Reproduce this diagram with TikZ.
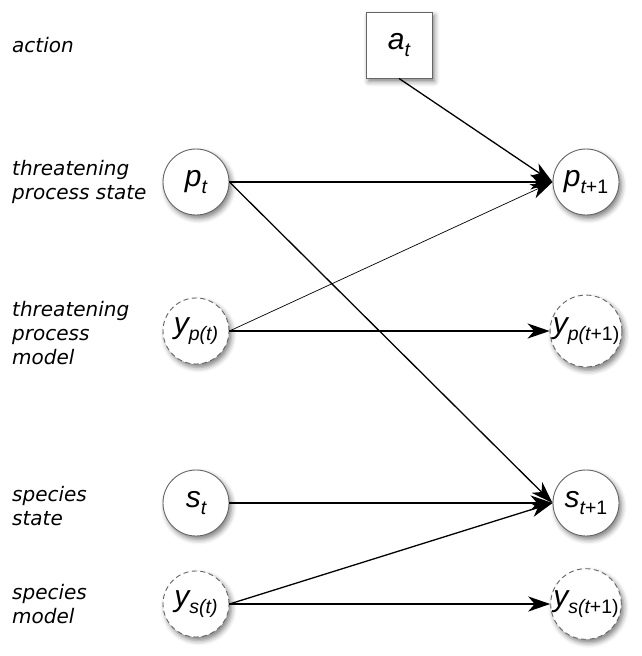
\documentclass[tikz,border=0pt]{standalone}
\usepackage{fontspec}
\newfontfamily\labfont{DejaVu Sans}
\newfontfamily\mthfont{Liberation Sans}
\usetikzlibrary{arrows.meta,shadows.blur}
\newcommand\mv[2]{{\mthfont\itshape\fontsize{30}{30}\selectfont #1\raisebox{-0.24em}{\fontsize{19.5}{19.5}\selectfont #2}}}
\begin{document}
\begin{tikzpicture}[x=1pt,y=-1pt,
  shad/.style={blur shadow={shadow xshift=2.5pt,shadow yshift=-3.5pt,shadow blur radius=5pt,shadow opacity=50}},
  state/.style={circle,draw=black!60,line width=0.9pt,fill=white,minimum size=66pt,inner sep=0pt,shad},
  model/.style={state,dash pattern=on 5pt off 3.5pt},
  actbox/.style={rectangle,draw=black!60,line width=0.9pt,fill=white,minimum size=66pt,inner sep=0pt,shad},
  lab/.style={anchor=west,align=left,inner sep=0pt,font=\labfont\itshape\fontsize{20}{24}\selectfont},
  tip/.style={-{Stealth[length=22pt,width=15pt,inset=6.5pt]}},
  thick arrow/.style={tip,line width=2.2pt},
  mid arrow/.style={tip,line width=1.3pt},
  thin arrow/.style={tip,line width=0.7pt}]
\useasboundingbox (0,0) rectangle (642,656);
% labels
\node[lab] (l1) at (12,45) {action};
\node[lab] (l2) at (12,182) {threatening\\process state};
\node[lab] (l3) at (12,333) {threatening\\process\\model};
\node[lab] (l4) at (12,506) {species\\state};
\node[lab] (l5) at (12,604) {species\\model};
% nodes
\node[actbox] (a) at (399,45) {\mv{a}{t}};
\node[state] (pt) at (196,182) {\mv{p}{t}};
\node[model] (ypt) at (196,331) {\mv{y}{p(t)}};
\node[state] (st) at (196,503) {\mv{s}{t}};
\node[model] (yst) at (196,604) {\mv{y}{s(t)}};
\node[state] (pt1) at (586,182) {\mv{p}{t\upshape+1}};
\node[model] (ypt1) at (586,331) {\mv{y}{p(t\upshape+1)}};
\node[state] (st1) at (586,503) {\mv{s}{t\upshape+1}};
\node[model] (yst1) at (586,604) {\mv{y}{s(t\upshape+1)}};
% connectors
\draw[mid arrow] (a.south) -- (pt1.west);
\draw[thick arrow] (pt.east) -- (pt1.west);
\draw[thin arrow] (ypt.east) -- (pt1.west);
\draw[thick arrow] (ypt.east) -- (ypt1.west);
\draw[mid arrow] (pt.east) -- (st1.west);
\draw[thick arrow] (st.east) -- (st1.west);
\draw[mid arrow] (yst.east) -- (st1.west);
\draw[thick arrow] (yst.east) -- (yst1.west);
\end{tikzpicture}
\end{document}
